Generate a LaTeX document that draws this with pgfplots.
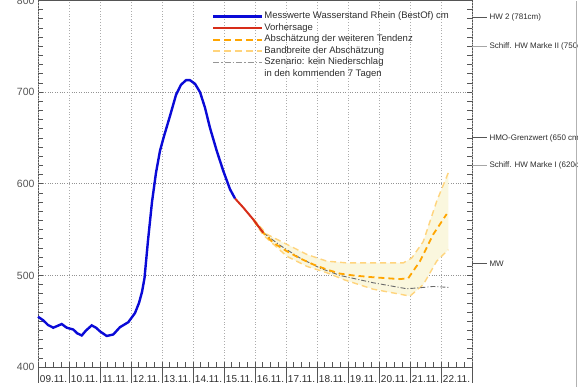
\documentclass[border=0pt]{standalone}
\usepackage{pgfplots}
\pgfplotsset{compat=1.18}
\usepackage{fontspec}
\setmainfont{Liberation Sans}
\definecolor{mblue}{RGB}{10,10,215}
\definecolor{mred}{RGB}{215,45,25}
\definecolor{morange}{RGB}{255,165,0}
\definecolor{mlorange}{RGB}{255,212,125}
\definecolor{mfill}{RGB}{250,247,222}
\definecolor{mgrey}{RGB}{105,105,105}
\definecolor{axgrey}{RGB}{85,85,85}
\definecolor{txt}{RGB}{45,45,45}
\begin{document}
\begin{tikzpicture}
\path (0,0) rectangle (578pt,386pt);
\begin{axis}[
  scale only axis, width=434pt, height=366.67pt,
  at={(38pt,20pt)}, anchor=south west,
  xmin=0, xmax=14, ymin=400, ymax=800,
  clip=false,
  axis line style={axgrey, line width=0.9pt},
  tick style={axgrey, line width=0.7pt},
  tick align=inside,
  major tick length=5pt, minor tick length=5pt,
  xtick={0.5,1.5,...,13.5},
  xticklabels={09.11.,10.11.,11.11.,12.11.,13.11.,14.11.,15.11.,16.11.,17.11.,18.11.,19.11.,20.11.,21.11.,22.11.},
  minor xtick={0.25,0.75,...,13.75},
  xtick pos=bottom,
  xticklabel style={font=\fontsize{10}{12}\selectfont, text=txt, yshift=-5pt, overlay},
  extra x ticks={0,1,...,14},
  extra x tick labels={},
  extra x tick style={grid=major, major grid style={dotted, gray!65, line width=0.7pt}},
  ytick={400,500,...,800},
  minor y tick num=9,
  ymajorgrids,
  major grid style={dotted, gray!85, line width=0.8pt},
  yticklabel style={font=\fontsize{10.5}{12}\selectfont, text=axgrey, overlay},
  /pgf/number format/assume math mode=true,
  legend style={at={(axis description cs:0.4,0.972)}, anchor=north west, draw=none, fill=none,
    font=\fontsize{9.5}{11}\selectfont, text=txt, inner sep=0pt, row sep=0pt,
    nodes={inner sep=1pt, text height=7pt, text depth=2.5pt}},
  legend cell align=left,
  legend image code/.code={\draw[#1] (0pt,0pt) -- (49pt,0pt);},
]
% uncertainty band fill
\addplot[fill=mfill, draw=none, forget plot] coordinates {
 (6.945,562)(7.377,545)(8.023,534)(8.668,523)(9.313,515.6)(9.958,513.7)(10.816,513.7)(11.784,513.7)(12.055,519)(12.429,537)(12.861,581)(13.235,612)
 (13.235,528)(12.861,515.6)(12.429,490)(12.0,477.5)(10.816,485)(9.9,495)(9.313,503)(8.668,510)(8.023,521)(7.268,544)(6.945,560)
} -- cycle;
% band limits
\addplot[mlorange, line width=1.4pt, dash pattern=on 6pt off 4pt, forget plot] coordinates {
 (6.945,562)(7.377,545)(8.023,534)(8.668,523)(9.313,515.6)(9.958,513.7)(10.816,513.7)(11.784,513.7)(12.055,519)(12.429,537)(12.861,581)(13.235,612)};
\addplot[mlorange, line width=1.4pt, dash pattern=on 6pt off 4pt, forget plot] coordinates {
 (6.945,560)(7.268,544)(8.023,521)(8.668,510)(9.313,503)(9.9,495)(10.816,485)(12.0,477.5)(12.429,490)(12.861,515.6)(13.235,528)};
% scenario without precipitation
\addplot[mgrey, line width=0.9pt, dash pattern=on 5pt off 2pt on 1pt off 2pt, forget plot] coordinates {
 (7.268,546.5)(7.8,533)(8.452,519)(9.1,508)(9.742,500)(10.816,492)(11.892,485.5)(12.323,486.6)(12.752,488)(13.235,487)};
% tendency
\addplot[morange, line width=1.8pt, dash pattern=on 6pt off 4pt, forget plot] coordinates {
 (7.0,558)(7.268,546.5)(7.59,535.6)(8.023,526.5)(8.452,518.6)(8.881,512)(9.313,506.5)(9.742,502)(10.171,500)(10.816,498)(11.677,496)(11.945,497)(12.323,515.6)(12.752,545)(13.184,567)};
% forecast
\addplot[mred, line width=2pt, forget plot] coordinates {
 (6.355,584)(6.623,574)(6.945,561)(7.268,546.5)};
% measured
\addplot[mblue, line width=2.4pt, forget plot] coordinates {
 (0,455)(0.171,451)(0.32,446)(0.494,443)(0.63,445)(0.765,447)(0.926,443)(1.139,441)(1.26,437)(1.41,434.5)(1.55,440)(1.732,445.5)(1.87,443)(2.0,439)(2.216,434)(2.429,435.6)(2.645,443.6)(2.913,449)(3.129,459)
 (3.258,470)(3.355,482)(3.435,497)(3.548,538)(3.677,580)(3.806,612)(3.935,636)(4.065,652)(4.258,674)(4.452,697)(4.613,708)(4.774,713)(4.903,713)(5.065,709)(5.226,700)(5.387,683)(5.548,661)(5.765,636)(5.977,614)(6.194,594)(6.355,584)};
\addlegendimage{mblue, line width=2.6pt}
\addlegendentry{Messwerte Wasserstand Rhein (BestOf) cm}
\addlegendimage{mred, line width=2pt}
\addlegendentry{Vorhersage}
\addlegendimage{morange, line width=1.7pt, dash pattern=on 7pt off 4pt}
\addlegendentry{Absch\"atzung der weiteren Tendenz}
\addlegendimage{mlorange, line width=1.7pt, dash pattern=on 7pt off 4pt}
\addlegendentry{Bandbreite der Absch\"atzung}
\addlegendimage{mgrey!70, line width=1.2pt, dash pattern=on 6pt off 2pt on 1.5pt off 2pt}
\addlegendentry{Szenario: kein Niederschlag}
\addlegendimage{empty legend}
\addlegendentry{in den kommenden 7 Tagen}
% day separators below the axis
\pgfplotsinvokeforeach{0,1,...,14}{
  \draw[axgrey, line width=0.8pt] (axis cs:#1,400) -- ([yshift=-16pt]axis cs:#1,400);
}
% marks on the right
\begin{scope}[overlay, every node/.style={right, font=\fontsize{8}{9.5}\selectfont, text=txt, inner sep=2pt}]
\draw[axgrey, line width=1pt] (axis cs:14,781) -- ([xshift=15pt]axis cs:14,781) node {HW 2 (781cm)};
\draw[gray!70, line width=1pt] (axis cs:14,750) -- ([xshift=15pt]axis cs:14,750) node {Schiff. HW Marke II (750cm)};
\draw[axgrey, line width=1pt] (axis cs:14,650) -- ([xshift=15pt]axis cs:14,650) node {HMO-Grenzwert (650 cm)};
\draw[gray!70, line width=1pt] (axis cs:14,620) -- ([xshift=15pt]axis cs:14,620) node {Schiff. HW Marke I (620cm)};
\draw[axgrey, line width=1pt] (axis cs:14,513) -- ([xshift=15pt]axis cs:14,513) node {MW};
\end{scope}
\end{axis}
\draw[gray!60, line width=0.8pt, overlay] (576.8pt,0) -- (576.8pt,386pt);
\end{tikzpicture}
\end{document}
